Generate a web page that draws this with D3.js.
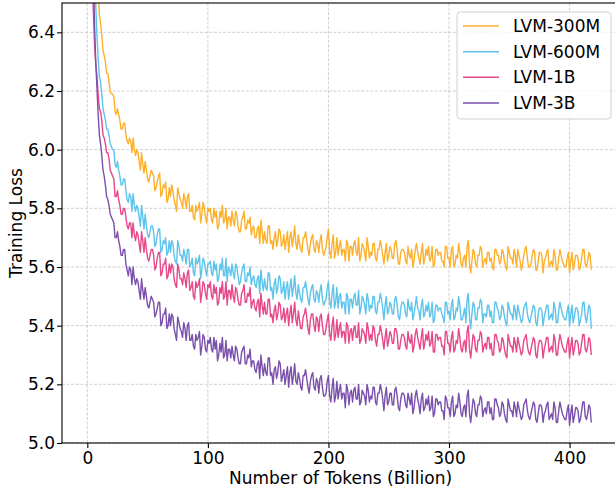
<!DOCTYPE html>
<html><head><meta charset="utf-8">
<script src="https://cdn.jsdelivr.net/npm/d3@7"></script>
<style>body{margin:0;background:#fff}svg{display:block}</style>
</head><body><svg id="c" width="615" height="488"></svg>
<script>
// samples at even token counts (Billion)
const tokensA=[2,4,6,8,10,12,14,16,18,20,22,24,26,28,30,32,34,36,38,40,42,44,46,48,50,52,54,56,58,60,62,64,66,68,70,72,74,76,78,80,82,84,86,88,90,92,94,96,98,100,102,104,106,108,110,112,114,116,118,120,122,124,126,128,130,132,134,136,138,140,142,144,146,148,150,152,154,156,158,160,162,164,166,168,170,172,174,176,178,180,182,184,186,188,190,192,194,196,198,200,202,204,206,208,210,212,214,216,218,220,222,224,226,228,230,232,234,236,238,240,242,244,246,248,250,252,254,256,258,260,262,264,266,268,270,272,274,276,278,280,282,284,286,288,290,292,294,296,298,300,302,304,306,308,310,312,314,316,318,320,322,324,326,328,330,332,334,336,338,340,342,344,346,348,350,352,354,356,358,360,362,364,366,368,370,372,374,376,378,380,382,384,386,388,390,392,394,396,398,400,402,404,406,408,410,412,414,416,418];
// samples at odd token counts (Billion)
const tokensB=[3,5,7,9,11,13,15,17,19,21,23,25,27,29,31,33,35,37,39,41,43,45,47,49,51,53,55,57,59,61,63,65,67,69,71,73,75,77,79,81,83,85,87,89,91,93,95,97,99,101,103,105,107,109,111,113,115,117,119,121,123,125,127,129,131,133,135,137,139,141,143,145,147,149,151,153,155,157,159,161,163,165,167,169,171,173,175,177,179,181,183,185,187,189,191,193,195,197,199,201,203,205,207,209,211,213,215,217,219,221,223,225,227,229,231,233,235,237,239,241,243,245,247,249,251,253,255,257,259,261,263,265,267,269,271,273,275,277,279,281,283,285,287,289,291,293,295,297,299,301,303,305,307,309,311,313,315,317,319,321,323,325,327,329,331,333,335,337,339,341,343,345,347,349,351,353,355,357,359,361,363,365,367,369,371,373,375,377,379,381,383,385,387,389,391,393,395,397,399,401,403,405,407,409,411,413,415,417];

const loss300M_A=[7.80,7.30,6.90,6.63,6.46,6.39,6.32,6.26,6.23,6.19,
6.18,6.12,6.12,6.07,6.09,6.05,6.02,6.03,6.04,5.98,
5.99,5.93,5.95,5.96,5.90,5.91,5.92,5.86,5.89,5.92,
5.85,5.87,5.82,5.87,5.88,5.83,5.79,5.85,5.82,5.85,
5.80,5.85,5.79,5.77,5.81,5.80,5.75,5.82,5.77,5.80,
5.80,5.75,5.77,5.73,5.79,5.81,5.76,5.73,5.77,5.79,
5.74,5.78,5.72,5.76,5.79,5.73,5.75,5.71,5.74,5.70,
5.74,5.76,5.68,5.69,5.74,5.68,5.66,5.72,5.69,5.72,
5.68,5.66,5.72,5.70,5.67,5.74,5.66,5.68,5.65,5.70,
5.69,5.64,5.70,5.66,5.69,5.65,5.71,5.64,5.67,5.73,
5.63,5.71,5.65,5.64,5.69,5.66,5.62,5.68,5.67,5.64,
5.69,5.64,5.62,5.68,5.65,5.70,5.63,5.64,5.68,5.62,
5.66,5.67,5.61,5.68,5.64,5.66,5.63,5.69,5.61,5.65,
5.66,5.62,5.67,5.63,5.60,5.66,5.65,5.61,5.68,5.63,
5.64,5.62,5.67,5.61,5.66,5.65,5.62,5.60,5.67,5.63,
5.66,5.60,5.64,5.68,5.61,5.63,5.60,5.69,5.58,5.66,
5.61,5.64,5.67,5.60,5.63,5.65,5.62,5.60,5.66,5.64,
5.61,5.66,5.62,5.59,5.65,5.63,5.66,5.60,5.64,5.59,
5.64,5.67,5.60,5.61,5.66,5.59,5.62,5.65,5.58,5.63,
5.66,5.61,5.60,5.64,5.59,5.66,5.62,5.60,5.63,5.58,
5.65,5.61,5.64,5.59,5.63,5.66,5.60,5.65,5.59];
const loss300M_B=[7.52,7.08,6.75,6.54,6.43,6.34,6.30,6.26,6.20,6.19,
6.13,6.14,6.10,6.07,6.09,6.03,6.04,5.99,6.00,6.00,
5.96,5.99,5.92,5.93,5.89,5.93,5.91,5.87,5.91,5.84,
5.88,5.89,5.83,5.84,5.86,5.81,5.87,5.83,5.80,5.83,
5.84,5.79,5.81,5.76,5.79,5.82,5.78,5.80,5.75,5.79,
5.76,5.80,5.79,5.74,5.77,5.75,5.80,5.77,5.74,5.76,
5.79,5.74,5.72,5.77,5.73,5.76,5.77,5.73,5.70,5.73,
5.68,5.72,5.72,5.68,5.74,5.69,5.70,5.67,5.73,5.67,
5.71,5.69,5.65,5.72,5.70,5.68,5.71,5.66,5.70,5.72,
5.66,5.68,5.71,5.65,5.68,5.69,5.66,5.65,5.70,5.65,
5.68,5.63,5.70,5.67,5.64,5.66,5.69,5.62,5.67,5.68,
5.65,5.70,5.64,5.67,5.62,5.67,5.65,5.68,5.63,5.66,
5.69,5.64,5.65,5.62,5.67,5.63,5.68,5.66,5.61,5.66,
5.65,5.61,5.64,5.66,5.62,5.68,5.63,5.65,5.61,5.66,
5.67,5.63,5.60,5.66,5.64,5.65,5.62,5.67,5.63,5.60,
5.67,5.61,5.63,5.65,5.60,5.64,5.67,5.61,5.62,5.65,
5.60,5.64,5.66,5.62,5.61,5.65,5.63,5.59,5.66,5.64,
5.62,5.65,5.60,5.67,5.63,5.61,5.64,5.66,5.62,5.61,
5.66,5.63,5.60,5.64,5.65,5.59,5.65,5.64,5.62,5.65,
5.60,5.62,5.66,5.59,5.63,5.64,5.61,5.60,5.65,5.62,
5.59,5.64,5.63,5.60,5.66,5.61,5.62,5.64];

const loss600M_A=[7.60,7.05,6.62,6.39,6.25,6.19,6.12,6.07,6.05,6.01,
6.00,5.94,5.93,5.88,5.90,5.86,5.82,5.84,5.85,5.79,
5.80,5.74,5.77,5.78,5.71,5.72,5.74,5.67,5.71,5.73,
5.66,5.68,5.64,5.69,5.69,5.64,5.61,5.67,5.64,5.66,
5.61,5.66,5.61,5.58,5.63,5.62,5.56,5.63,5.59,5.61,
5.62,5.57,5.59,5.55,5.61,5.63,5.57,5.55,5.59,5.61,
5.56,5.60,5.54,5.58,5.61,5.55,5.57,5.54,5.57,5.53,
5.57,5.59,5.52,5.53,5.58,5.52,5.49,5.56,5.53,5.56,
5.52,5.49,5.55,5.53,5.50,5.57,5.49,5.51,5.48,5.53,
5.52,5.47,5.53,5.49,5.52,5.48,5.54,5.47,5.49,5.55,
5.46,5.54,5.48,5.46,5.51,5.48,5.44,5.50,5.49,5.46,
5.51,5.47,5.44,5.50,5.47,5.51,5.45,5.46,5.50,5.44,
5.48,5.49,5.42,5.50,5.45,5.47,5.44,5.50,5.43,5.46,
5.48,5.44,5.49,5.45,5.42,5.47,5.46,5.42,5.49,5.44,
5.45,5.43,5.48,5.42,5.47,5.46,5.44,5.41,5.48,5.45,
5.47,5.42,5.46,5.50,5.42,5.44,5.41,5.51,5.39,5.48,
5.42,5.46,5.49,5.41,5.44,5.47,5.43,5.41,5.48,5.46,
5.42,5.47,5.43,5.40,5.46,5.44,5.47,5.42,5.45,5.41,
5.46,5.48,5.42,5.43,5.47,5.41,5.44,5.46,5.40,5.45,
5.47,5.43,5.42,5.46,5.41,5.48,5.44,5.42,5.45,5.40,
5.47,5.43,5.46,5.40,5.44,5.48,5.41,5.47,5.39];
const loss600M_B=[7.30,6.82,6.49,6.31,6.23,6.14,6.10,6.07,6.02,6.00,
5.95,5.96,5.91,5.88,5.90,5.83,5.85,5.79,5.81,5.81,
5.77,5.81,5.73,5.74,5.70,5.74,5.72,5.68,5.73,5.65,
5.69,5.70,5.65,5.65,5.68,5.62,5.69,5.64,5.62,5.64,
5.66,5.60,5.63,5.57,5.61,5.64,5.59,5.62,5.57,5.61,
5.58,5.62,5.61,5.56,5.59,5.57,5.63,5.60,5.57,5.58,
5.61,5.57,5.55,5.60,5.55,5.58,5.60,5.56,5.54,5.56,
5.51,5.55,5.56,5.52,5.58,5.53,5.54,5.51,5.57,5.51,
5.55,5.53,5.49,5.56,5.53,5.51,5.54,5.49,5.53,5.55,
5.49,5.51,5.54,5.48,5.51,5.52,5.49,5.48,5.53,5.48,
5.51,5.46,5.53,5.50,5.46,5.48,5.51,5.44,5.49,5.50,
5.47,5.52,5.46,5.49,5.44,5.49,5.47,5.50,5.45,5.48,
5.51,5.46,5.47,5.44,5.48,5.44,5.49,5.47,5.42,5.48,
5.47,5.43,5.46,5.48,5.44,5.50,5.45,5.47,5.43,5.47,
5.48,5.44,5.41,5.47,5.45,5.46,5.43,5.48,5.44,5.42,
5.49,5.43,5.45,5.47,5.42,5.46,5.49,5.43,5.44,5.47,
5.42,5.46,5.48,5.44,5.43,5.47,5.45,5.41,5.48,5.45,
5.43,5.46,5.41,5.48,5.44,5.42,5.45,5.47,5.43,5.42,
5.47,5.44,5.41,5.45,5.46,5.40,5.46,5.45,5.43,5.47,
5.42,5.44,5.48,5.41,5.45,5.46,5.43,5.42,5.47,5.44,
5.41,5.46,5.45,5.42,5.48,5.43,5.44,5.46];

const loss1B_A=[7.30,6.62,6.36,6.25,6.14,6.10,6.04,5.99,5.97,5.92,
5.90,5.84,5.83,5.78,5.80,5.77,5.73,5.75,5.75,5.69,
5.71,5.65,5.69,5.70,5.63,5.64,5.66,5.59,5.63,5.65,
5.58,5.61,5.56,5.61,5.61,5.56,5.53,5.59,5.56,5.58,
5.53,5.59,5.53,5.50,5.55,5.54,5.48,5.55,5.51,5.54,
5.55,5.49,5.51,5.47,5.53,5.55,5.50,5.47,5.52,5.54,
5.48,5.52,5.47,5.51,5.54,5.48,5.50,5.46,5.49,5.45,
5.49,5.51,5.44,5.44,5.49,5.43,5.41,5.47,5.44,5.47,
5.43,5.41,5.46,5.44,5.41,5.48,5.40,5.42,5.39,5.44,
5.43,5.37,5.44,5.40,5.43,5.38,5.44,5.37,5.39,5.44,
5.35,5.43,5.37,5.36,5.41,5.38,5.34,5.40,5.38,5.35,
5.40,5.36,5.34,5.39,5.37,5.41,5.35,5.35,5.39,5.33,
5.37,5.38,5.32,5.39,5.35,5.37,5.34,5.39,5.32,5.35,
5.37,5.33,5.38,5.34,5.31,5.37,5.36,5.32,5.39,5.34,
5.35,5.33,5.38,5.31,5.37,5.36,5.33,5.30,5.38,5.34,
5.36,5.31,5.35,5.39,5.32,5.34,5.31,5.40,5.29,5.37,
5.32,5.35,5.38,5.31,5.34,5.36,5.32,5.30,5.37,5.35,
5.31,5.36,5.32,5.29,5.35,5.33,5.36,5.31,5.34,5.30,
5.35,5.37,5.31,5.32,5.36,5.30,5.33,5.35,5.29,5.34,
5.36,5.32,5.31,5.35,5.30,5.37,5.33,5.31,5.34,5.29,
5.36,5.32,5.35,5.30,5.34,5.37,5.31,5.36,5.30];
const loss1B_B=[6.90,6.47,6.29,6.19,6.13,6.05,6.02,5.99,5.93,5.91,
5.84,5.86,5.81,5.78,5.80,5.74,5.75,5.70,5.71,5.72,
5.68,5.72,5.65,5.66,5.62,5.66,5.64,5.60,5.65,5.57,
5.61,5.63,5.57,5.58,5.60,5.54,5.61,5.56,5.54,5.56,
5.58,5.52,5.55,5.49,5.53,5.56,5.51,5.54,5.49,5.53,
5.50,5.54,5.53,5.48,5.51,5.49,5.55,5.52,5.49,5.50,
5.53,5.49,5.47,5.52,5.48,5.51,5.53,5.48,5.46,5.48,
5.43,5.47,5.48,5.44,5.49,5.44,5.45,5.42,5.48,5.42,
5.46,5.44,5.40,5.47,5.44,5.42,5.45,5.39,5.43,5.46,
5.39,5.42,5.44,5.38,5.42,5.43,5.40,5.37,5.42,5.37,
5.40,5.35,5.42,5.39,5.36,5.38,5.41,5.34,5.39,5.39,
5.36,5.41,5.35,5.38,5.34,5.39,5.37,5.40,5.35,5.37,
5.40,5.35,5.36,5.33,5.38,5.34,5.39,5.37,5.32,5.37,
5.36,5.32,5.35,5.37,5.33,5.39,5.34,5.36,5.32,5.37,
5.38,5.34,5.31,5.37,5.35,5.36,5.33,5.38,5.34,5.31,
5.38,5.32,5.34,5.36,5.31,5.35,5.38,5.32,5.33,5.36,
5.31,5.35,5.37,5.33,5.32,5.36,5.34,5.30,5.37,5.34,
5.32,5.35,5.30,5.37,5.33,5.31,5.34,5.36,5.32,5.31,
5.36,5.33,5.30,5.34,5.35,5.29,5.35,5.34,5.32,5.36,
5.31,5.33,5.37,5.30,5.34,5.35,5.32,5.31,5.36,5.33,
5.30,5.35,5.34,5.31,5.37,5.32,5.33,5.35];

const loss3B_A=[7.50,6.85,6.42,6.21,6.05,5.98,5.91,5.84,5.81,5.77,
5.75,5.70,5.69,5.64,5.66,5.61,5.57,5.59,5.60,5.54,
5.55,5.49,5.52,5.53,5.47,5.48,5.49,5.43,5.46,5.48,
5.41,5.44,5.39,5.44,5.44,5.39,5.35,5.41,5.38,5.41,
5.35,5.41,5.35,5.33,5.37,5.36,5.30,5.37,5.32,5.35,
5.36,5.31,5.32,5.28,5.34,5.36,5.30,5.28,5.32,5.33,
5.28,5.32,5.27,5.31,5.33,5.27,5.29,5.26,5.28,5.24,
5.28,5.30,5.23,5.24,5.29,5.23,5.20,5.26,5.24,5.27,
5.23,5.20,5.26,5.24,5.20,5.27,5.20,5.22,5.18,5.23,
5.22,5.17,5.23,5.19,5.22,5.17,5.23,5.16,5.17,5.23,
5.14,5.22,5.16,5.15,5.20,5.17,5.12,5.18,5.17,5.14,
5.19,5.15,5.13,5.18,5.16,5.20,5.14,5.15,5.19,5.13,
5.17,5.18,5.11,5.19,5.14,5.17,5.13,5.19,5.12,5.15,
5.17,5.13,5.17,5.13,5.10,5.16,5.15,5.10,5.17,5.12,
5.13,5.11,5.16,5.10,5.15,5.14,5.11,5.08,5.15,5.12,
5.14,5.09,5.13,5.17,5.10,5.12,5.09,5.18,5.07,5.15,
5.10,5.13,5.16,5.09,5.12,5.14,5.10,5.08,5.15,5.13,
5.09,5.14,5.10,5.07,5.13,5.11,5.14,5.09,5.12,5.08,
5.13,5.15,5.09,5.10,5.14,5.08,5.10,5.13,5.07,5.11,
5.14,5.09,5.08,5.12,5.07,5.14,5.10,5.08,5.11,5.06,
5.13,5.09,5.12,5.07,5.11,5.14,5.08,5.13,5.07];
const loss3B_B=[7.15,6.62,6.30,6.12,6.02,5.93,5.88,5.83,5.78,5.76,
5.70,5.72,5.67,5.64,5.66,5.59,5.60,5.54,5.56,5.56,
5.52,5.56,5.49,5.50,5.46,5.50,5.48,5.44,5.48,5.40,
5.44,5.46,5.40,5.40,5.43,5.37,5.43,5.39,5.36,5.39,
5.40,5.35,5.37,5.32,5.35,5.38,5.33,5.36,5.31,5.34,
5.32,5.36,5.35,5.30,5.31,5.29,5.35,5.32,5.29,5.30,
5.33,5.29,5.27,5.32,5.27,5.30,5.32,5.28,5.25,5.27,
5.22,5.26,5.27,5.23,5.29,5.24,5.25,5.22,5.28,5.21,
5.25,5.23,5.19,5.26,5.23,5.21,5.24,5.19,5.23,5.25,
5.19,5.21,5.24,5.18,5.21,5.22,5.19,5.16,5.21,5.16,
5.19,5.14,5.21,5.18,5.15,5.17,5.20,5.13,5.18,5.18,
5.15,5.20,5.14,5.17,5.13,5.18,5.16,5.19,5.14,5.17,
5.20,5.15,5.16,5.13,5.17,5.13,5.18,5.16,5.11,5.17,
5.16,5.12,5.15,5.17,5.12,5.18,5.13,5.15,5.11,5.15,
5.16,5.12,5.09,5.15,5.13,5.14,5.11,5.16,5.12,5.09,
5.16,5.10,5.12,5.14,5.09,5.13,5.16,5.10,5.11,5.14,
5.09,5.13,5.15,5.11,5.10,5.14,5.12,5.08,5.15,5.12,
5.10,5.13,5.08,5.15,5.11,5.09,5.12,5.14,5.10,5.09,
5.14,5.11,5.08,5.12,5.13,5.07,5.13,5.12,5.10,5.13,
5.08,5.10,5.14,5.07,5.11,5.12,5.09,5.08,5.13,5.10,
5.07,5.12,5.11,5.08,5.14,5.09,5.10,5.12];

const seriesNames=["LVM-300M","LVM-600M","LVM-1B","LVM-3B"];
const seriesColors=["#FDB02C","#5EC4EB","#E6488A","#7A50AC"];
const xTicks=[0,100,200,300,400];
const yTicks=[5.0,5.2,5.4,5.6,5.8,6.0,6.2,6.4];
const xDomain=[-21,441];
const yDomain=[5.0,6.5];
const xLabel="Number of Tokens (Billion)";
const yLabel="Training Loss";

function mergeSamples(a,b){
  const pts=tokensA.map((t,i)=>[t,a[i]]).concat(tokensB.map((t,i)=>[t,b[i]]));
  return pts.sort((p,q)=>p[0]-q[0]);
}
const series=[[loss300M_A,loss300M_B],[loss600M_A,loss600M_B],[loss1B_A,loss1B_B],[loss3B_A,loss3B_B]]
  .map((ab,k)=>({name:seriesNames[k],color:seriesColors[k],points:mergeSamples(ab[0],ab[1])}));

const FONT="'DejaVu Sans', sans-serif";
const svg=d3.select("#c");
const L=62,R=619,T=3,B=443;
const x=d3.scaleLinear().domain(xDomain).range([L,R]);
const y=d3.scaleLinear().domain(yDomain).range([B,T]);

svg.append("defs").append("clipPath").attr("id","clip")
  .append("rect").attr("x",L).attr("y",T).attr("width",R-L).attr("height",B-T);

// grid
const grid=svg.append("g").attr("stroke","#b0b0b0").attr("stroke-width",0.8)
  .attr("stroke-dasharray","3,1.6").attr("opacity",0.75);
grid.selectAll(".gx").data(xTicks).join("line").attr("class","gx")
  .attr("x1",d=>x(d)).attr("x2",d=>x(d)).attr("y1",T).attr("y2",B);
grid.selectAll(".gy").data(yTicks).join("line").attr("class","gy")
  .attr("y1",d=>y(d)).attr("y2",d=>y(d)).attr("x1",L).attr("x2",R);

// lines
const line=d3.line().x(d=>x(d[0])).y(d=>y(d[1]));
const lg=svg.append("g").attr("clip-path","url(#clip)");
lg.selectAll("path").data(series).join("path")
  .attr("d",d=>line(d.points)).attr("fill","none")
  .attr("stroke",d=>d.color).attr("stroke-width",1.4).attr("stroke-linejoin","round");

// axes
const xAxis=d3.axisBottom(x).tickValues(xTicks).tickSize(5).tickPadding(3.5).tickFormat(d3.format("d"));
const yAxis=d3.axisLeft(y).tickValues(yTicks).tickSize(5).tickPadding(2).tickFormat(d3.format(".1f"));
const gx=svg.append("g").attr("transform",`translate(0,${B})`).call(xAxis);
const gy=svg.append("g").attr("transform",`translate(${L},0)`).call(yAxis);
[gx,gy].forEach(g=>{
  g.select(".domain").remove();
  g.selectAll("line").attr("stroke","#000").attr("stroke-width",1.1);
  g.selectAll("text").attr("fill","#000").style("font-family",FONT).style("font-size","17px");
});

// spines
svg.append("rect").attr("x",L).attr("y",T).attr("width",R-L).attr("height",B-T)
  .attr("fill","none").attr("stroke","#000").attr("stroke-width",1.1);

// axis labels
svg.append("text").attr("x",(L+R)/2).attr("y",483.5).attr("text-anchor","middle")
  .style("font-family",FONT).style("font-size","17px").text(xLabel);
svg.append("text").attr("transform",`translate(21.5,${(T+B)/2}) rotate(-90)`).attr("text-anchor","middle")
  .style("font-family",FONT).style("font-size","17px").text(yLabel);

// legend
const leg=svg.append("g");
leg.append("rect").attr("x",457).attr("y",12).attr("width",154).attr("height",107)
  .attr("rx",3.5).attr("fill","#fff").attr("fill-opacity",0.8).attr("stroke","#d0d0d0").attr("stroke-width",1);
const rowY=[26,51.7,77.3,103];
const items=leg.selectAll(".it").data(series).join("g").attr("class","it")
  .attr("transform",(d,i)=>`translate(0,${rowY[i]})`);
items.append("line").attr("x1",463).attr("x2",499).attr("y1",0).attr("y2",0)
  .attr("stroke",d=>d.color).attr("stroke-width",1.5);
items.append("text").attr("x",513).attr("dy","0.36em")
  .style("font-family",FONT).style("font-size","17px").attr("fill","#000").text(d=>d.name);
</script>
</body></html>
